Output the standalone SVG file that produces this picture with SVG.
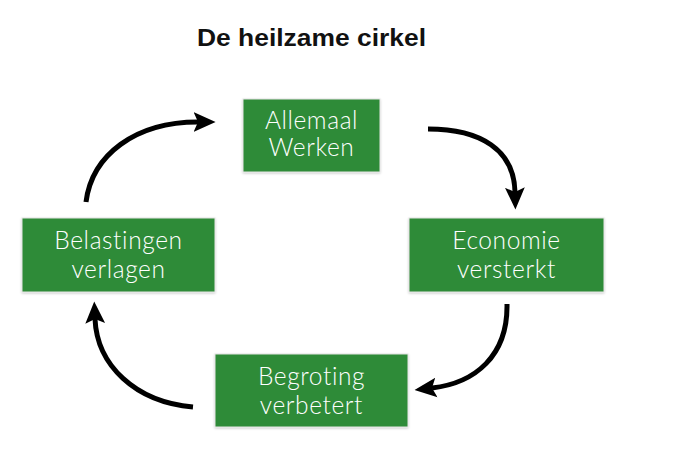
<svg xmlns="http://www.w3.org/2000/svg" width="680" height="462" viewBox="0 0 680 462">
<defs>
<style>
.box{fill:#2f8b37;stroke:#e4e4e4;stroke-width:1}
.lbl{fill:#ffffff;font-family:Lato,"Open Sans","Liberation Sans",sans-serif;font-weight:300;font-size:24.5px;letter-spacing:0.6px;text-anchor:middle}
.title{fill:#111111;font-family:"Liberation Sans",Arial,sans-serif;font-weight:bold;font-size:23px}
.arr{fill:none;stroke:#000000;stroke-width:5;marker-end:url(#ah)}
</style>
<marker id="ah" markerUnits="userSpaceOnUse" markerWidth="22" markerHeight="22" viewBox="0 0 20 20" refX="4" refY="10" orient="auto">
<path d="M0,1 L20,10 L0,19 L4,10 z" fill="#000000"/>
</marker>
<filter id="sh" x="-10%" y="-10%" width="120%" height="130%">
<feDropShadow dx="0" dy="1" stdDeviation="1" flood-color="#000000" flood-opacity="0.2"/>
</filter>
</defs>
<rect width="680" height="462" fill="#ffffff"/>
<text class="title" x="197" y="46" textLength="229" lengthAdjust="spacingAndGlyphs">De heilzame cirkel</text>
<g id="connectors">
<path class="arr" d="M428,129 C481,129 514,150 515,192"/>
<path class="arr" d="M507,304 C508,356 475,383 432,388"/>
<path class="arr" d="M193,407 C135,402 97,365 95,319"/>
<path class="arr" d="M86,202 C92,155 135,122 198,122"/>
</g>
<g id="allemaal-werken">
<rect class="box" x="243" y="99" width="137" height="73" filter="url(#sh)"/>
<text class="lbl" x="311.5" y="129">Allemaal</text>
<text class="lbl" x="311.5" y="156">Werken</text>
</g>
<g id="economie-versterkt">
<rect class="box" x="409" y="218" width="195" height="74" filter="url(#sh)"/>
<text class="lbl" x="506.5" y="249">Economie</text>
<text class="lbl" x="506.5" y="278">versterkt</text>
</g>
<g id="begroting-verbetert">
<rect class="box" x="215" y="354" width="193" height="73" filter="url(#sh)"/>
<text class="lbl" x="311.5" y="385">Begroting</text>
<text class="lbl" x="311.5" y="414">verbetert</text>
</g>
<g id="belastingen-verlagen">
<rect class="box" x="22" y="218" width="193" height="74" filter="url(#sh)"/>
<text class="lbl" x="118.5" y="249">Belastingen</text>
<text class="lbl" x="118.5" y="278">verlagen</text>
</g>
</svg>
